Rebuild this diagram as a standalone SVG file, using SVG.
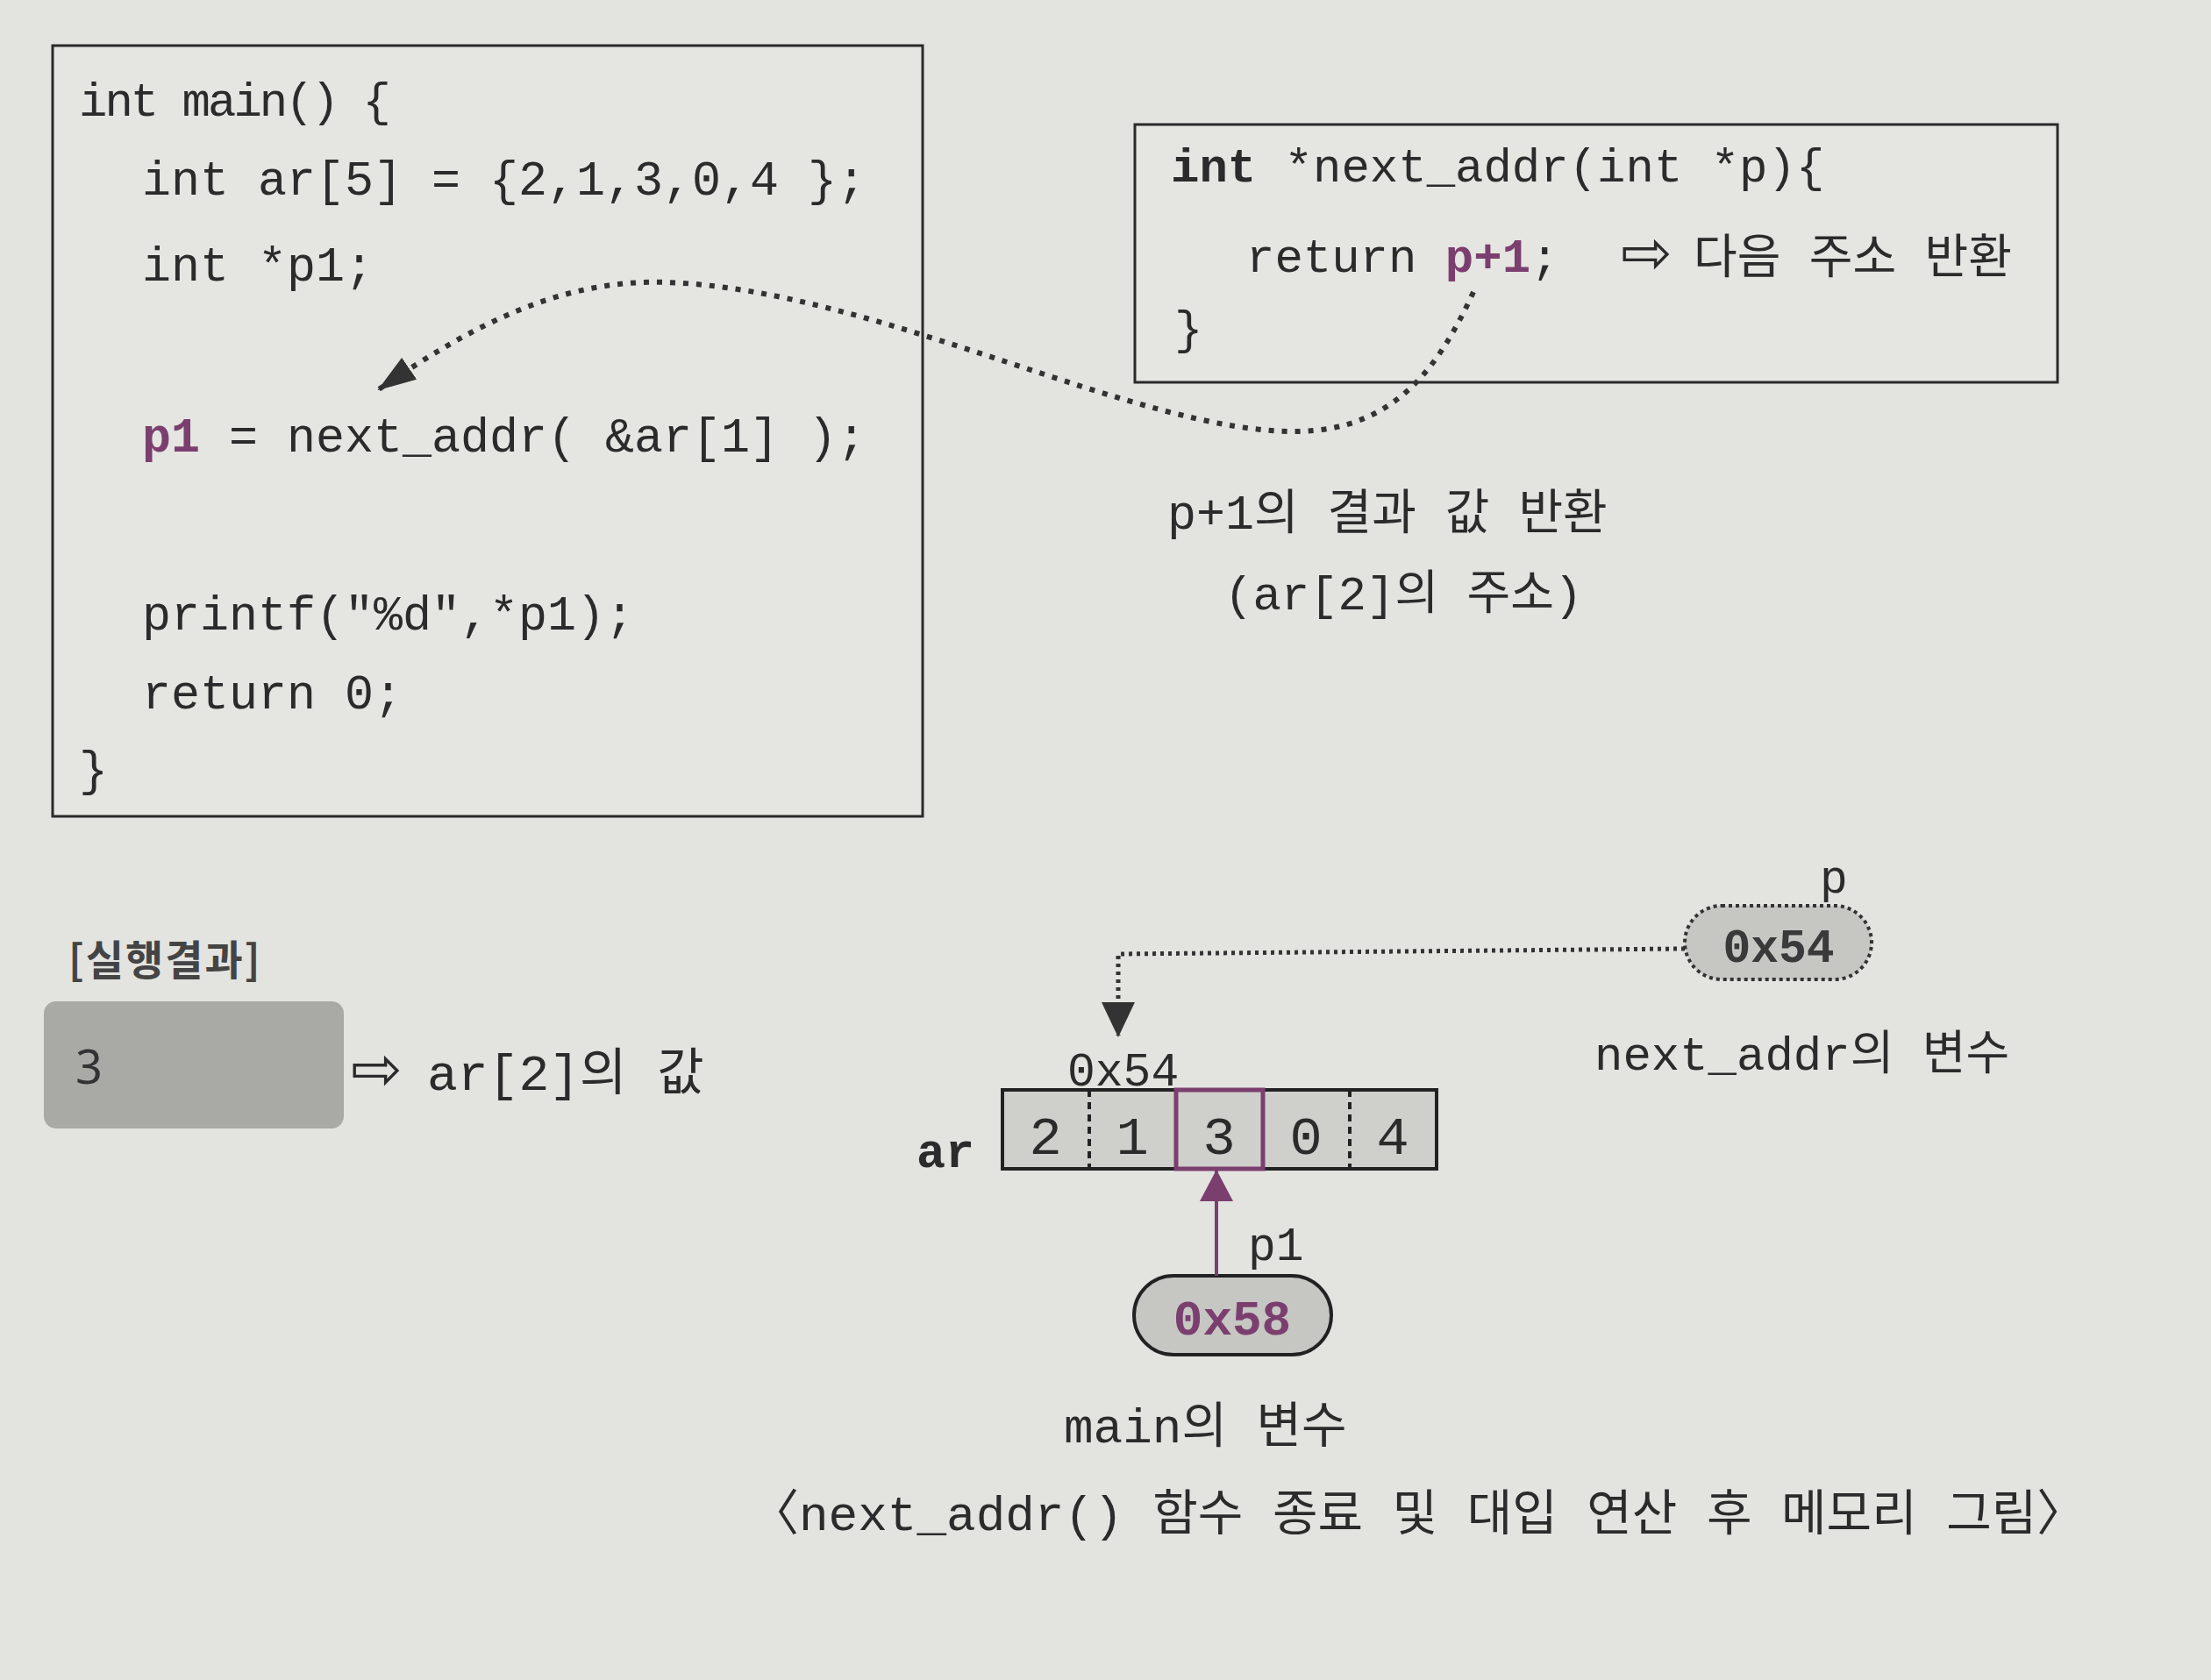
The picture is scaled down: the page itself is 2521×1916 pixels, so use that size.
<svg xmlns="http://www.w3.org/2000/svg" width="2521" height="1916" viewBox="0 0 2521 1916">
<defs>
<style>
.code{font-family:'Liberation Mono','Noto Sans CJK KR',monospace;font-size:55px;fill:#2b2b2b}
.kr{font-family:'Liberation Mono','Noto Sans CJK KR',monospace;font-size:54px;fill:#2b2b2b}
.pur{fill:#7b3f6f;font-weight:bold}
.box{fill:#e5e5e1;stroke:#2a2a2a;stroke-width:3}
.sym{font-family:'DejaVu Sans',sans-serif;font-size:70px;fill:#2b2b2b}
.dot{fill:none;stroke:#333;stroke-width:6}
</style>
<marker id="ahDark" markerUnits="userSpaceOnUse" markerWidth="44" markerHeight="30" refX="42" refY="15" orient="auto"><path d="M0,0 L44,15 L0,30 Z" fill="#333"/></marker>
<marker id="ahDown" markerUnits="userSpaceOnUse" markerWidth="40" markerHeight="40" refX="38" refY="19" orient="auto"><path d="M0,0 L40,19 L0,38 Z" fill="#333"/></marker>
<marker id="ahPur" markerUnits="userSpaceOnUse" markerWidth="36" markerHeight="38" refX="35" refY="19" orient="auto"><path d="M0,0 L36,19 L0,38 Z" fill="#7b3f6f"/></marker>
</defs>
<rect width="2521" height="1916" fill="#e3e3df"/>

<g id="main-code">
<rect class="box" x="60" y="52" width="992" height="879"/>
<text class="code" x="90" y="132" style="font-size:54px" letter-spacing="-3">int main() {</text>
<text class="code" x="162" y="222">int ar[5] = {2,1,3,0,4 };</text>
<text class="code" x="162" y="320">int *p1;</text>
<text class="code" x="162" y="515"><tspan class="pur">p1</tspan> = next_addr( &amp;ar[1] );</text>
<text class="code" x="162" y="718">printf("%d",*p1);</text>
<text class="code" x="162" y="808">return 0;</text>
<text class="code" x="90" y="895">}</text>
</g>

<g id="next-addr-code">
<rect class="box" x="1294" y="142" width="1052" height="294"/>
<text class="code" x="1335" y="207" style="font-size:54px"><tspan font-weight="bold">int</tspan> *next_addr(int *p){</text>
<text class="code" x="1421" y="310" style="font-size:54px">return <tspan class="pur">p+1</tspan>;</text>
<text class="sym" x="1848" y="312">⇨</text>
<text class="kr" x="1931" y="312">다음 주소 반환</text>
<text class="code" x="1339" y="392" style="font-size:54px">}</text>
</g>

<g id="return-note">
<text class="kr" x="1331" y="603" style="font-size:55px">p+1의 결과 값 반환</text>
<text class="kr" x="1396" y="695">(ar[2]의 주소)</text>
</g>

<g id="result">
<text x="78" y="1112" font-family="'Noto Sans CJK KR',sans-serif" font-size="47" font-weight="700" letter-spacing="2" fill="#444">[실행결과]</text>
<rect x="50" y="1142" width="342" height="145" rx="14" fill="#a9a9a6"/>
<text x="86" y="1236" font-family="'Noto Sans',sans-serif" font-size="54" fill="#333">3</text>
<text class="sym" x="400" y="1243">⇨</text>
<text class="kr" x="487" y="1243" style="font-size:58px">ar[2]의 값</text>
</g>

<g id="p-var">
<text class="code" x="2075" y="1018" style="font-size:53px">p</text>
<rect x="1921" y="1033" width="213" height="84" rx="42" fill="#c6c6c2" stroke="#333" stroke-width="4" stroke-dasharray="4 4"/>
<text class="code" x="2028" y="1097" text-anchor="middle" style="font-size:53px;font-weight:bold;fill:#3a3a3a">0x54</text>
<text class="kr" x="1818" y="1220">next_addr의 변수</text>
</g>

<g id="array-ar">
<text class="code" x="1045" y="1331" font-weight="bold">ar</text>
<text class="code" x="1217" y="1238" style="font-size:53px">0x54</text>
<rect x="1143" y="1243" width="495" height="90" fill="#cfcfcb" stroke="#222" stroke-width="4"/>
<line x1="1242" y1="1243" x2="1242" y2="1333" stroke="#222" stroke-width="4" stroke-dasharray="8 6"/>
<line x1="1539" y1="1243" x2="1539" y2="1333" stroke="#222" stroke-width="4" stroke-dasharray="8 6"/>
<rect x="1341" y="1243" width="99" height="90" fill="none" stroke="#7b3f6f" stroke-width="5"/>
<text class="code" style="font-size:62px" text-anchor="middle" y="1316"><tspan x="1192">2</tspan><tspan x="1291">1</tspan><tspan x="1390">3</tspan><tspan x="1489">0</tspan><tspan x="1588">4</tspan></text>
</g>

<g id="p1-var">
<text class="code" x="1423" y="1437" style="font-size:53px">p1</text>
<rect x="1293" y="1455" width="225" height="90" rx="45" fill="#c6c6c2" stroke="#222" stroke-width="4"/>
<text class="code" x="1405" y="1522" text-anchor="middle" style="font-size:56px;font-weight:bold;fill:#7b3f6f">0x58</text>
<text class="kr" x="1213" y="1645" style="font-size:56px">main의 변수</text>
</g>

<g id="connectors">
<path class="dot" stroke-dasharray="6 9" d="M1680,333 C1640,420 1590,490 1480,492 C1300,495 1000,330 760,322 C640,318 540,370 432,444" marker-end="url(#ahDark)"/>
<path class="dot" style="stroke-width:5" stroke-dasharray="4 5" d="M1921,1082 L1275,1088 L1275,1181" marker-end="url(#ahDown)"/>
<line x1="1387" y1="1455" x2="1387" y2="1335" stroke="#7b3f6f" stroke-width="4" marker-end="url(#ahPur)"/>
</g>

<g id="caption">
<text class="kr" x="855" y="1745" style="font-size:56px">〈next_addr() 함수 종료 및 대입 연산 후 메모리 그림〉</text>
</g>
</svg>
